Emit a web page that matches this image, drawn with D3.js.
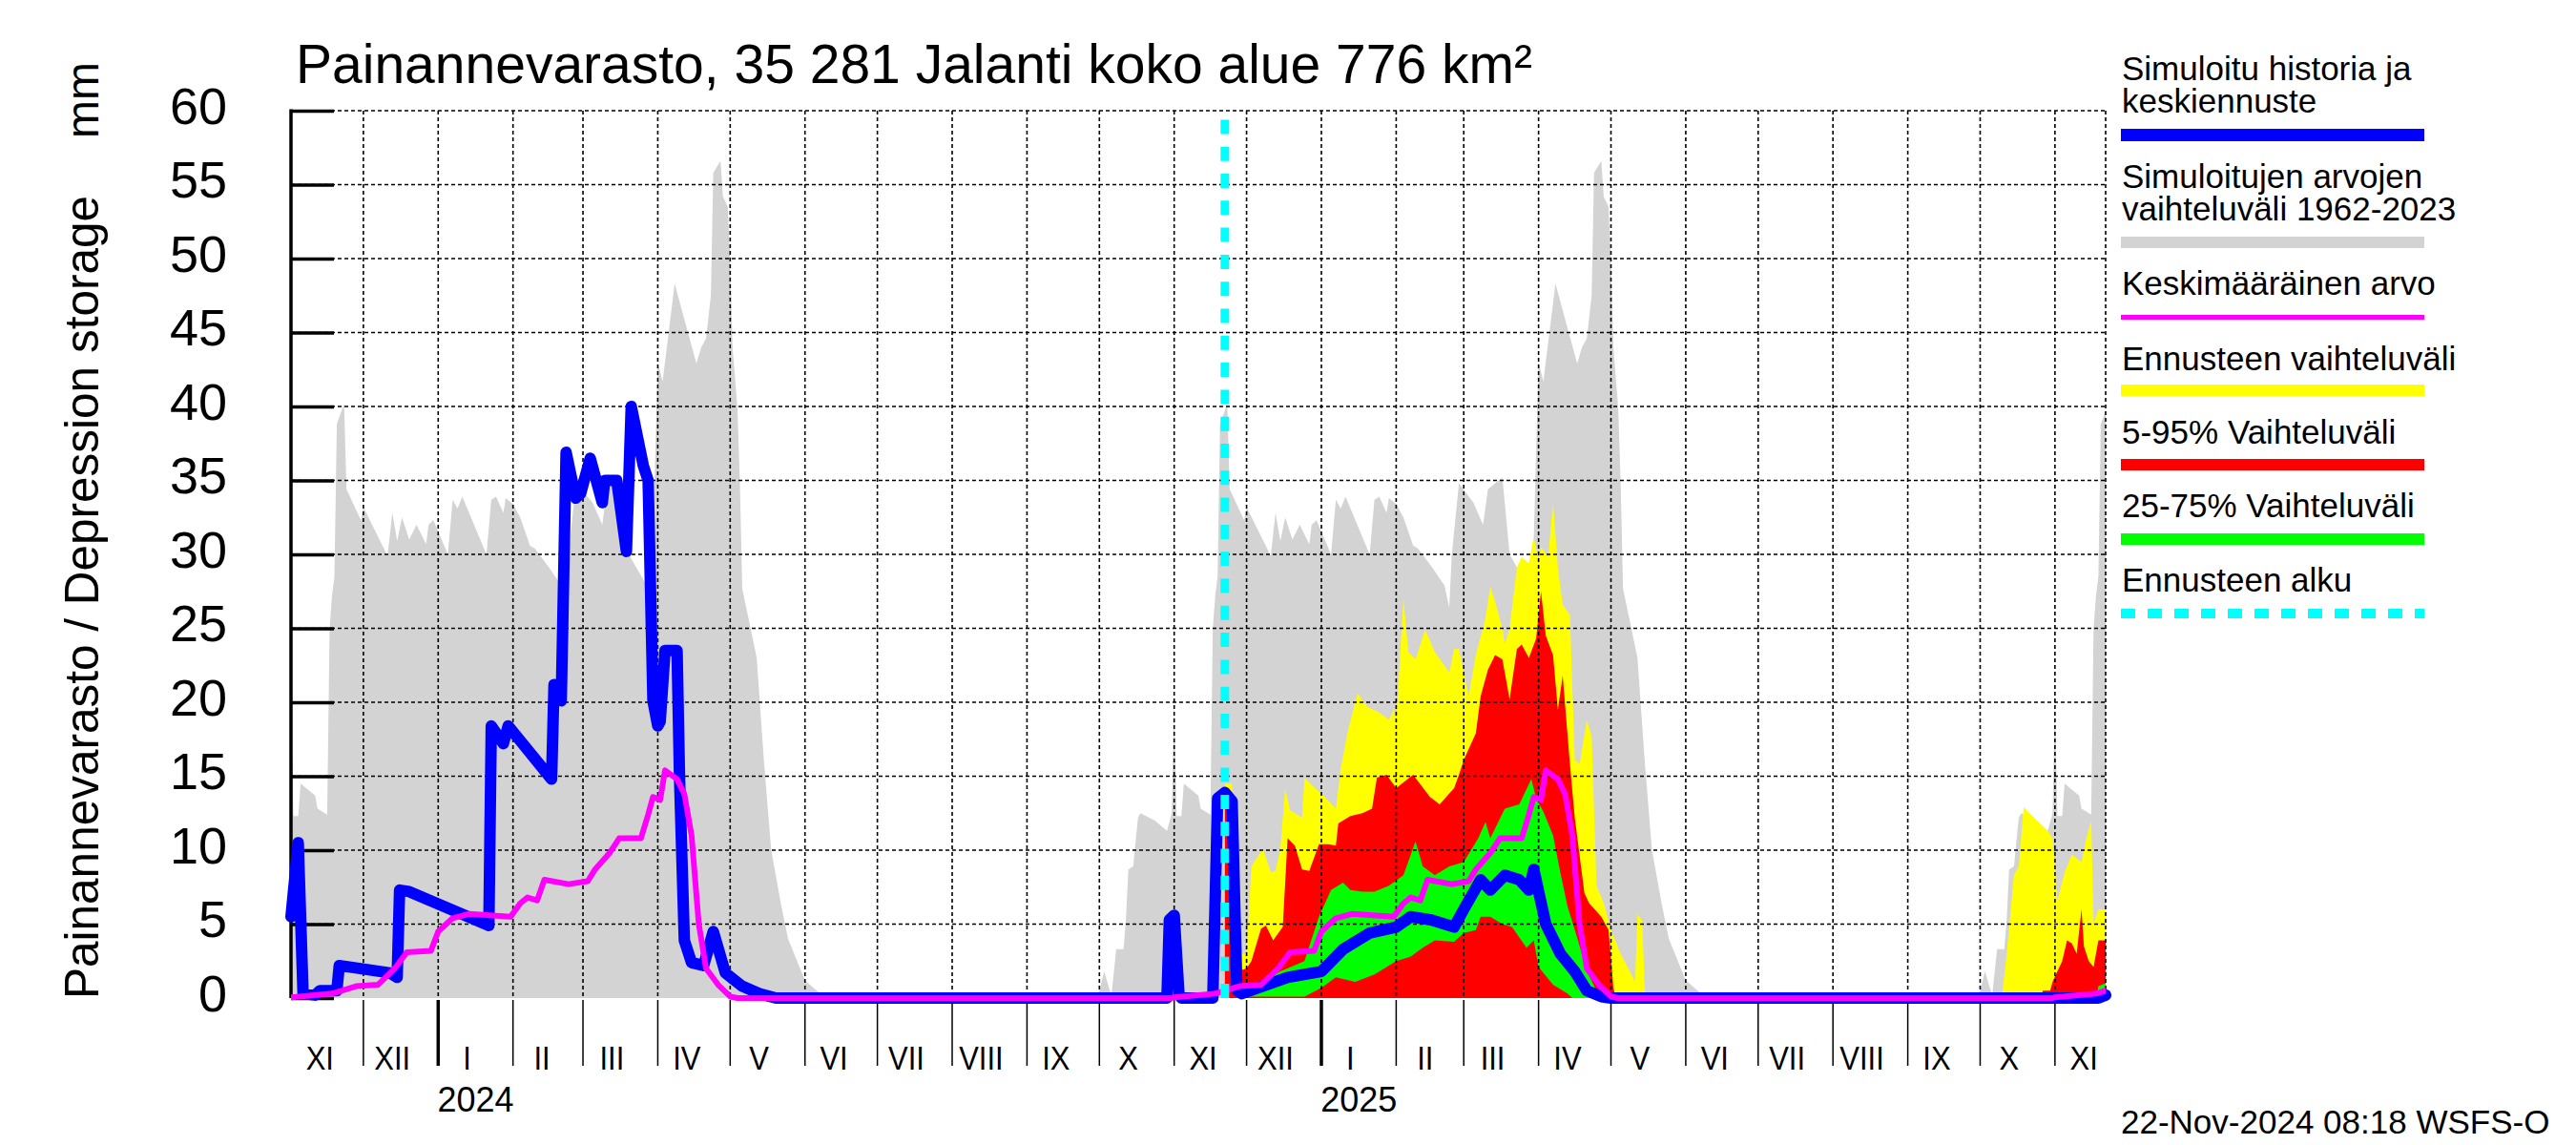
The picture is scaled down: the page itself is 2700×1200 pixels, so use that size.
<!DOCTYPE html>
<html><head><meta charset="utf-8">
<script src="https://cdn.jsdelivr.net/npm/d3@7"></script>
<style>
body{margin:0;background:#fff}
svg{display:block}
text{font-family:"Liberation Sans",Arial,Helvetica,sans-serif;fill:#000}
</style></head>
<body><svg id="c" width="2700" height="1200"></svg>
<script>
// ---------------- DATA ----------------
const startDate = "2023-11-01";
const endDate = "2025-11-22";
const forecastStart = "2024-11-22";
const titleText = "Painannevarasto, 35 281 Jalanti koko alue 776 km²";
const yTitle = "Painannevarasto / Depression storage";
const yUnit = "mm";
const stampText = "22-Nov-2024 08:18 WSFS-O";
const monthNames = ["I","II","III","IV","V","VI","VII","VIII","IX","X","XI","XII"];
const yTicks = [0,5,10,15,20,25,30,35,40,45,50,55,60];
const yearLabels = [2024, 2025];
const legendLabels = [
  ["Simuloitu historia ja","keskiennuste"],
  ["Simuloitujen arvojen","vaihteluväli 1962-2023"],
  ["Keskimääräinen arvo"],
  ["Ennusteen vaihteluväli"],
  ["5-95% Vaihteluväli"],
  ["25-75% Vaihteluväli"],
  ["Ennusteen alku"]
];

// historical max (climatology by month-day, 1962-2023), min is 0
const histMaxClim = [
 ["09-29",0],["10-01",0.5],["10-03",1.8],["10-05",0.7],["10-06",0.2],["10-08",3.3],["10-11",3.3],["10-12",5.3],["10-13",8.7],["10-15",8.9],["10-17",12.2],["10-18",12.5],["10-24",12.0],["10-29",11.3],["10-31",12.5],
 ["11-01",20],["11-02",12.3],["11-04",12.3],["11-05",14.5],["11-11",13.7],["11-12",12.8],["11-16",12.4],["11-17",25],["11-18",27.2],["11-19",28.5],["11-20",38.8],["11-23",40.2],["11-24",34.4],["11-30",32.3],
 ["12-01",33.2],["12-11",29.9],["12-13",32.8],["12-15",30.9],["12-17",32.5],["12-20",31],["12-23",32],["12-27",30.7],["12-28",32],["12-30",32.3],
 ["01-05",30],["01-07",33.7],["01-09",33.1],["01-11",33.9],["01-21",30],["01-23",33.7],["01-25",33.9],["01-28",32.8],["01-29",33.8],
 ["02-01",33.4],["02-04",32.5],["02-08",30.6],["02-10",30.4],["02-16",29.1],["02-21",27.9],["02-23",26.4],["02-24",29.9],["02-27",34.8],
 ["03-05",33.5],["03-09",32],["03-11",34.4],["03-17",35.2],["03-20",30],["03-27",28],["03-30",31],
 ["04-01",43],["04-03",41.7],["04-08",48.3],["04-17",42.9],["04-19",44],["04-21",44.6],["04-23",47.5],["04-24",55.8],["04-27",56.6],["04-28",54.2],["04-30",53.5],
 ["05-01",49.8],["05-02",44],["05-04",39.9],["05-05",35],["05-06",27.7],["05-12",23],["05-15",16],["05-18",10],["05-22",6.4],["05-25",4],
 ["06-01",1.2],["06-08",0.2],["06-12",0]
];

// mean value (climatology by month-day)
const meanClim = [
 ["10-31",0],["11-01",0.05],["11-18",0.3],["11-28",0.8],["12-07",0.9],["12-14",2.0],["12-19",3.1],["12-29",3.2],
 ["01-01",4.5],["01-07",5.4],["01-14",5.7],["01-22",5.6],["01-31",5.5],["02-04",6.4],["02-07",6.8],["02-11",6.6],["02-14",8.0],["02-24",7.7],
 ["03-03",7.9],["03-06",8.7],["03-12",9.8],["03-16",10.8],["03-25",10.8],["03-28",12.4],["03-30",13.6],["04-02",13.4],["04-04",15.4],["04-09",14.8],["04-12",13.8],["04-15",11.0],["04-18",5.0],["04-21",2.0],["04-26",0.9],["05-01",0.1],["05-04",0]
];

// simulated history + median forecast
const simMedian = [
 ["2023-11-01",5.5],["2023-11-04",10.5],["2023-11-06",0.3],["2023-11-11",0.2],["2023-11-13",0.5],["2023-11-20",0.5],["2023-11-21",2.2],["2023-12-12",1.7],["2023-12-15",1.4],["2023-12-16",7.3],["2023-12-20",7.2],
 ["2024-01-22",4.9],["2024-01-23",18.4],["2024-01-28",17.2],["2024-01-30",18.4],["2024-02-17",14.8],["2024-02-18",21.2],["2024-02-21",20.1],["2024-02-23",36.9],["2024-02-27",33.8],["2024-02-29",34.1],["2024-03-04",36.5],["2024-03-09",33.5],["2024-03-10",35.0],["2024-03-15",35.0],["2024-03-19",30.2],["2024-03-21",40],["2024-03-26",36],["2024-03-28",35],["2024-03-30",20.1],["2024-04-01",18.4],["2024-04-02",18.7],["2024-04-04",23.5],["2024-04-09",23.5],["2024-04-10",15],["2024-04-12",3.9],["2024-04-15",2.4],["2024-04-20",2.2],["2024-04-24",4.5],["2024-04-29",1.7],["2024-05-06",0.8],["2024-05-13",0.3],["2024-05-20",0],
 ["2024-10-29",0],["2024-10-30",5.3],["2024-11-01",5.6],["2024-11-03",0.2],["2024-11-04",0],["2024-11-17",0],["2024-11-19",13.5],["2024-11-22",13.9],
 ["2024-11-25",13.3],["2024-11-27",0.5],["2024-11-29",0.3],["2024-12-18",1.4],["2025-01-01",1.8],["2025-01-10",3.3],["2025-01-21",4.4],["2025-02-01",4.8],["2025-02-07",5.5],["2025-02-15",5.3],["2025-02-25",4.8],["2025-03-01",6.0],["2025-03-08",8.0],["2025-03-12",7.3],["2025-03-18",8.3],["2025-03-24",8.0],["2025-03-28",7.3],["2025-03-30",8.7],["2025-04-04",5.0],["2025-04-10",3.0],["2025-04-16",1.8],["2025-04-21",0.5],["2025-04-27",0.1],["2025-05-01",0],["2025-11-19",0],["2025-11-22",0.2]
];

// forecast range (min is 0)
const fcMax = [
 ["2024-11-22",14.5],["2024-11-25",14.5],["2024-11-27",3.0],["2024-12-01",3.0],["2024-12-03",8.9],["2024-12-07",9.9],["2024-12-08",10.0],["2024-12-11",8.5],["2024-12-13",8.6],["2024-12-15",10.1],["2024-12-17",14.2],["2024-12-19",12.7],["2024-12-24",12.2],["2024-12-25",14.9],["2024-12-28",14.4],
 ["2025-01-01",13.8],["2025-01-07",12.8],["2025-01-09",15.5],["2025-01-12",18.1],["2025-01-16",20.6],["2025-01-20",19.7],["2025-01-25",19.3],["2025-01-29",18.8],["2025-01-31",19.5],["2025-02-01",18.8],["2025-02-02",21.3],["2025-02-04",27],["2025-02-06",23.4],["2025-02-09",22.9],["2025-02-13",24.9],["2025-02-17",23.4],["2025-02-23",22],["2025-02-25",23.6],["2025-02-27",23.6],
 ["2025-03-03",20.4],["2025-03-06",23.2],["2025-03-10",25.7],["2025-03-12",27.8],["2025-03-14",26.8],["2025-03-17",25],["2025-03-18",23.9],["2025-03-20",25],["2025-03-23",29.1],["2025-03-25",29.8],["2025-03-28",29.4],["2025-03-30",31.2],
 ["2025-04-01",29.6],["2025-04-02",30.5],["2025-04-05",29.8],["2025-04-07",33.5],["2025-04-09",29.1],["2025-04-11",26.6],["2025-04-14",25.9],["2025-04-16",16.1],["2025-04-18",15.8],["2025-04-21",18.8],["2025-04-23",17.7],["2025-04-25",7.6],["2025-04-28",6.4],
 ["2025-05-01",4.6],["2025-05-05",3.0],["2025-05-11",1.1],["2025-05-12",5.7],["2025-05-14",5.2],["2025-05-15",0.5],["2025-05-16",0],
 ["2025-10-10",0],["2025-10-12",3],["2025-10-15",8.3],["2025-10-17",8.9],["2025-10-19",12.9],["2025-10-29",11.3],["2025-10-31",10.8],["2025-11-02",6.6],["2025-11-05",8.5],["2025-11-08",9.7],["2025-11-12",9.2],["2025-11-14",10.8],["2025-11-16",12],["2025-11-17",5],["2025-11-19",6],["2025-11-22",6]
];
// 5-95 % range (lower bound 0)
const fc95 = [
 ["2024-11-22",14.2],["2024-11-25",13.5],["2024-11-27",1.8],["2024-12-01",2.0],["2024-12-03",2.5],["2024-12-07",4.7],["2024-12-09",4.9],["2024-12-12",3.9],["2024-12-16",4.8],["2024-12-18",10.8],["2024-12-21",10.3],["2024-12-24",8.7],["2024-12-27",8.6],["2024-12-31",10.4],
 ["2025-01-04",10.4],["2025-01-07",10.3],["2025-01-08",11.8],["2025-01-13",12.3],["2025-01-18",12.5],["2025-01-22",12.8],["2025-01-24",14.9],["2025-01-28",15.1],["2025-02-01",14.2],["2025-02-08",15.1],["2025-02-15",13.6],["2025-02-19",13.1],["2025-02-25",14.2],["2025-02-27",15.1],
 ["2025-03-01",16.1],["2025-03-06",17.9],["2025-03-08",20.4],["2025-03-11",22.2],["2025-03-14",23.2],["2025-03-17",22.9],["2025-03-20",20.2],["2025-03-23",23.6],["2025-03-25",23.9],["2025-03-28",23.0],["2025-03-31",24.3],
 ["2025-04-02",27.5],["2025-04-04",24.5],["2025-04-07",23.2],["2025-04-09",19.5],["2025-04-11",21.8],["2025-04-14",15.8],["2025-04-16",12.2],["2025-04-20",7.1],["2025-04-22",6.4],["2025-04-27",5.5],["2025-04-30",4.6],["2025-05-02",0.7],["2025-05-03",0],
 ["2025-10-26",0],["2025-10-27",0.5],["2025-10-30",0.5],["2025-10-31",1.1],["2025-11-02",1.8],["2025-11-04",2.5],["2025-11-06",3.9],["2025-11-08",3.7],["2025-11-10",3.0],["2025-11-12",6.0],["2025-11-13",3.5],["2025-11-15",2.5],["2025-11-17",2.1],["2025-11-19",3.9],["2025-11-22",3.9]
];
// 25-75 % range
const fc75 = [
 ["2024-11-22",13.9],["2024-11-25",13.3],["2024-11-27",0.5],["2024-12-07",1.1],["2024-12-15",1.8],["2024-12-25",2.5],["2024-12-31",5.5],
 ["2025-01-05",7.3],["2025-01-10",7.8],["2025-01-13",7.3],["2025-01-18",7.2],["2025-01-23",7.2],["2025-01-29",7.6],["2025-02-04",8.3],["2025-02-09",10.6],["2025-02-12",8.9],["2025-02-17",8.3],["2025-02-23",8.9],
 ["2025-03-01",9.2],["2025-03-07",10.8],["2025-03-10",11.9],["2025-03-12",10.8],["2025-03-18",12.8],["2025-03-24",13.1],["2025-03-29",14.8],["2025-03-31",13.5],["2025-04-03",12.6],["2025-04-07",11],["2025-04-10",8.5],["2025-04-13",6.2],["2025-04-17",4.1],["2025-04-21",1.8],["2025-04-25",0.5],["2025-04-27",0],
 ["2025-11-18",0],["2025-11-19",0.8],["2025-11-22",1.0]
];
const fc25 = [
 ["2024-11-22",13.5],["2024-11-25",13.0],["2024-11-27",0.1],["2024-12-25",0.1],
 ["2025-01-01",0.7],["2025-01-07",1.4],["2025-01-15",1.1],["2025-01-23",1.6],["2025-02-01",2.5],["2025-02-07",2.8],["2025-02-12",3.4],["2025-02-17",3.9],["2025-02-25",3.8],
 ["2025-03-01",4.4],["2025-03-06",4.6],["2025-03-08",5.5],["2025-03-12",5.5],["2025-03-17",5.0],["2025-03-21",4.8],["2025-03-27",3.4],["2025-03-30",3.9],["2025-04-01",2.1],["2025-04-07",0.9],["2025-04-13",0.3],["2025-04-15",0],
 ["2025-11-18",0],["2025-11-22",0]
];

// ---------------- CHART ----------------
const W = 2700, H = 1200;
const M = {left:305, right:2207, top:116, bottom:1046};
const parse = d3.utcParse("%Y-%m-%d");
const x = d3.scaleUtc().domain([parse(startDate), parse(endDate)]).range([M.left, M.right]);
const y = d3.scaleLinear().domain([0,60]).range([M.bottom, M.top]);

const toPts = arr => arr.map(d => ({date: parse(d[0]), v: d[1]}));
function expandClim(clim){
  const out = [];
  clim.forEach(([md, v]) => {
    const m = +md.slice(0,2);
    const yrs = m >= 7 ? [2022,2023,2024,2025] : [2023,2024,2025,2026];
    yrs.forEach(yr => out.push({date: parse(yr + "-" + md), v}));
  });
  return out.sort((a,b) => a.date - b.date);
}

const svg = d3.select("#c");

svg.append("defs").append("clipPath").attr("id","plotclip")
  .append("rect").attr("x", M.left).attr("y", 0).attr("width", M.right - M.left).attr("height", H);

const plot = svg.append("g").attr("clip-path","url(#plotclip)");

const areaZero = d3.area().x(d => x(d.date)).y0(y(0)).y1(d => y(d.v));
function bandPath(upper, lower){
  const pts = upper.map(d => [x(d.date), y(d.v)])
    .concat(lower.slice().reverse().map(d => [x(d.date), y(d.v)]));
  return d3.line()(pts) + "Z";
}

// gray historical range
plot.append("path").attr("d", areaZero(expandClim(histMaxClim))).attr("fill","#d3d3d3");
// forecast bands
plot.append("path").attr("d", areaZero(toPts(fcMax))).attr("fill","#ffff00");
plot.append("path").attr("d", areaZero(toPts(fc95))).attr("fill","#ff0000");
plot.append("path").attr("d", bandPath(toPts(fc75), toPts(fc25))).attr("fill","#00ff00");

// grid
const grid = svg.append("g").attr("stroke","#000").attr("stroke-width",1.6).attr("stroke-dasharray","4,3").attr("fill","none");
yTicks.filter(t => t > 0).forEach(t => {
  grid.append("line").attr("x1", M.left).attr("x2", M.right).attr("y1", y(t)).attr("y2", y(t));
});
const months = d3.utcMonth.range(d3.utcMonth.ceil(x.domain()[0]), x.domain()[1]);
months.filter(m => +m > +x.domain()[0]).forEach(m => {
  grid.append("line").attr("x1", x(m)).attr("x2", x(m)).attr("y1", M.top).attr("y2", M.bottom);
});
grid.append("line").attr("x1", M.right).attr("x2", M.right).attr("y1", M.top).attr("y2", M.bottom);

// y axis
const yAxis = d3.axisLeft(y).tickValues(yTicks).tickSize(-45).tickPadding(0).tickFormat(d3.format("d"));
const yg = svg.append("g").attr("transform", `translate(${M.left},0)`).call(yAxis);
yg.select(".domain").remove();
yg.selectAll(".tick line").attr("stroke","#000").attr("stroke-width",3.5);
yg.selectAll(".tick text").remove();
svg.append("line").attr("x1", M.left).attr("x2", M.left).attr("y1", M.top - 1.5).attr("y2", M.bottom)
  .attr("stroke","#000").attr("stroke-width",3.5);
svg.append("g").selectAll("text").data(yTicks).join("text")
  .attr("x", 238).attr("y", d => y(d) + 13.5).attr("text-anchor","end")
  .attr("font-size", 54).text(d => d);

// x axis ticks and labels
const xa = svg.append("g");
months.filter(m => +m > +x.domain()[0]).forEach(m => {
  const isJan = m.getUTCMonth() === 0;
  xa.append("line").attr("x1", x(m)).attr("x2", x(m)).attr("y1", M.bottom + 2).attr("y2", 1117)
    .attr("stroke","#000").attr("stroke-width", isJan ? 3.5 : 1.5);
});
const allMonths = [d3.utcMonth.floor(x.domain()[0])].concat(months.filter(m => +m > +x.domain()[0]));
allMonths.forEach(m => {
  const cx = x(d3.utcDay.offset(m, 12));
  xa.append("text").attr("transform", `translate(${cx},1121) scale(0.86,1)`)
    .attr("text-anchor","middle").attr("font-size", 36).text(monthNames[m.getUTCMonth()]);
});
yearLabels.forEach(yr => {
  const a = x(parse(yr + "-01-01")), b = x(parse(yr + "-02-01"));
  xa.append("text").attr("x", (a + b) / 2).attr("y", 1165).attr("text-anchor","middle")
    .attr("font-size", 36).text(yr);
});

// lines: blue (history + median), then magenta mean on top
const line = d3.line().x(d => x(d.date)).y(d => y(d.v));
svg.append("path").attr("d", line(toPts(simMedian))).attr("fill","none").attr("stroke","#0000ff")
  .attr("stroke-width",12).attr("stroke-linejoin","round").attr("stroke-linecap","round");
svg.append("g").attr("clip-path","url(#plotclip)")
  .append("path").attr("d", line(expandClim(meanClim))).attr("fill","none").attr("stroke","#ff00ff")
  .attr("stroke-width",6).attr("stroke-linejoin","round");
// forecast start
const xf = x(parse(forecastStart));
svg.append("line").attr("x1", xf).attr("x2", xf).attr("y1", y(0)).attr("y2", y(60))
  .attr("stroke","#00ffff").attr("stroke-width",9).attr("stroke-dasharray","15,13.3");

// title
svg.append("text").attr("x", 310).attr("y", 87).attr("font-size", 57).text(titleText);
// y title
svg.append("text").attr("transform","translate(103,1047) rotate(-90)").attr("font-size",49.5).text(yTitle);
svg.append("text").attr("transform","translate(103,145) rotate(-90)").attr("font-size",48).text(yUnit);

// legend
const legX = 2224, barX1 = 2223, barX2 = 2541;
const legend = [
  {lines: legendLabels[0], base:[84,118], bar:141.5, color:"#0000ff", w:13},
  {lines: legendLabels[1], base:[197,231], bar:254, color:"#d3d3d3", w:12},
  {lines: legendLabels[2], base:[309], bar:332.5, color:"#ff00ff", w:5},
  {lines: legendLabels[3], base:[388], bar:409, color:"#ffff00", w:12},
  {lines: legendLabels[4], base:[464.5], bar:487, color:"#ff0000", w:12},
  {lines: legendLabels[5], base:[542], bar:565, color:"#00ff00", w:12},
  {lines: legendLabels[6], base:[620], bar:643, color:"#00ffff", w:10, dash:"15,13"}
];
const lg = svg.append("g");
legend.forEach(it => {
  it.lines.forEach((t,i) => lg.append("text").attr("x", legX).attr("y", it.base[i]).attr("font-size",35).text(t));
  const l = lg.append("line").attr("x1", barX1).attr("x2", barX2).attr("y1", it.bar).attr("y2", it.bar)
    .attr("stroke", it.color).attr("stroke-width", it.w);
  if (it.dash) l.attr("stroke-dasharray", it.dash);
});

// timestamp
svg.append("text").attr("x", 2223).attr("y", 1188).attr("font-size", 35).text(stampText);
</script>
</body></html>
